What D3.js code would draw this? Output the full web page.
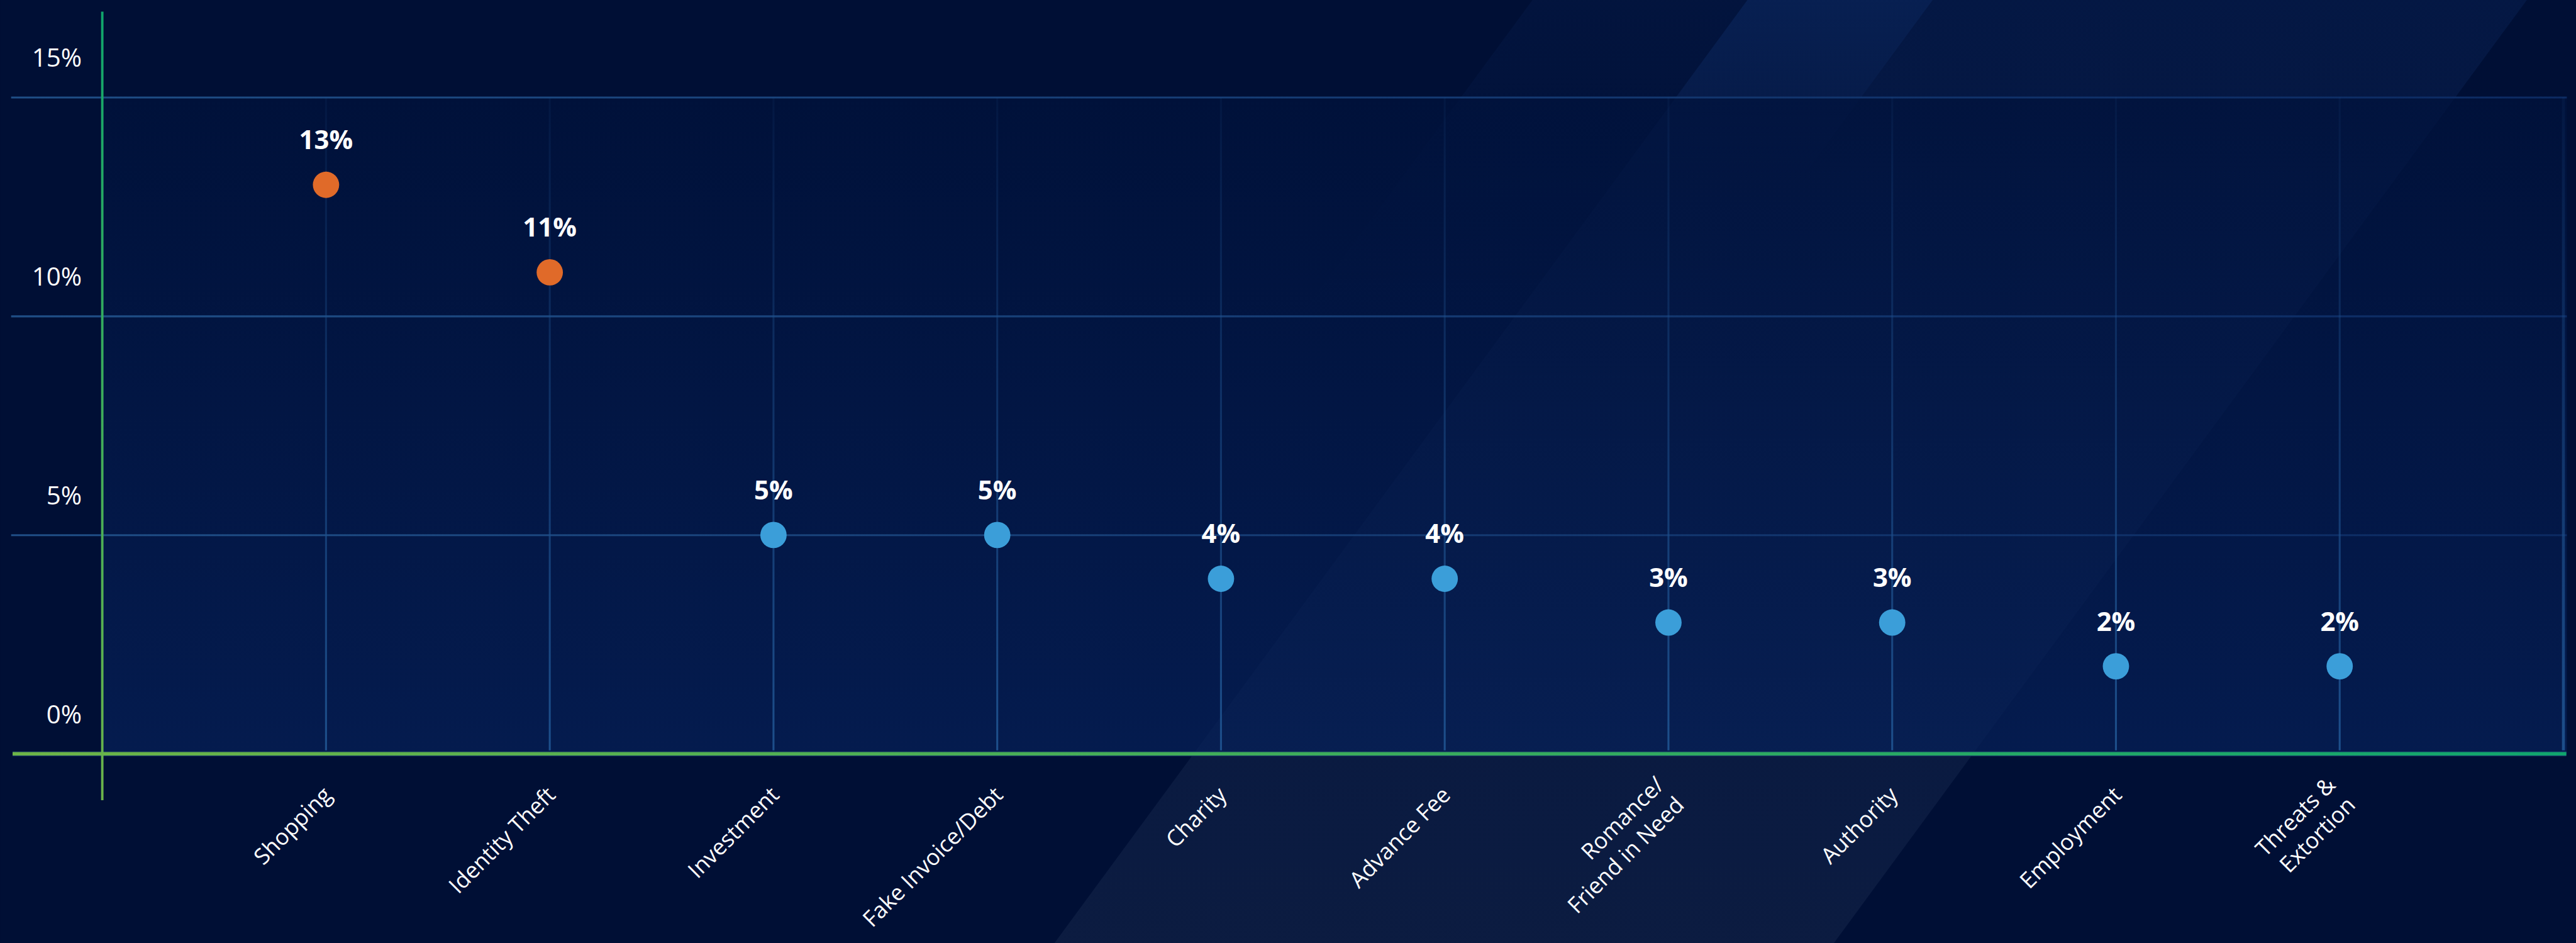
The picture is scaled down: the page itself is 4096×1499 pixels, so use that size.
<!DOCTYPE html>
<html>
<head>
<meta charset="utf-8">
<script src="https://cdn.jsdelivr.net/npm/d3@7"></script>
<style>
  html, body { margin: 0; padding: 0; background: #000f35; overflow: hidden; }
  svg { display: block; }
  text { font-family: "Open Sans", "Noto Sans", sans-serif; fill: #ffffff; }
</style>
</head>
<body>
<svg id="chart"></svg>
<script>
// ---- data -------------------------------------------------------------
const categories = [
  "Shopping", "Identity Theft", "Investment", "Fake Invoice/Debt", "Charity",
  "Advance Fee", "Romance/\nFriend in Need", "Authority", "Employment", "Threats &\nExtortion"
];
const shares = [13, 11, 5, 5, 4, 4, 3, 3, 2, 2];          // percent of reports
const highlighted = ["Shopping", "Identity Theft"];        // leading scam types
const yTickValues = [0, 5, 10, 15];
const gridValues = [5, 10, 15];

// ---- canvas -----------------------------------------------------------
const W = 5283, H = 1934;
const svg = d3.select("#chart")
  .attr("width", 4096).attr("height", 1499)
  .attr("viewBox", `0 0 ${W} ${H}`);

const plot = { left: 209, right: 5258, top: 199.5, bottom: 1546 };

const x = d3.scalePoint().domain(categories).range([plot.left, plot.right]).padding(1);
const y = d3.scaleLinear().domain([0, 15]).range([plot.bottom, plot.top]);

const defs = svg.append("defs");
function linGrad(id, x1, y1, x2, y2, stops) {
  const g = defs.append("linearGradient").attr("id", id)
    .attr("gradientUnits", "userSpaceOnUse")
    .attr("x1", x1).attr("y1", y1).attr("x2", x2).attr("y2", y2);
  stops.forEach(s => g.append("stop").attr("offset", s[0])
    .attr("stop-color", s[1]).attr("stop-opacity", s[2] === undefined ? 1 : s[2]));
  return `url(#${id})`;
}

const plotFill   = linGrad("plotFill", 0, plot.top, 0, plot.bottom, [[0, "#00123c"], [1, "#062058"]]);
const bandMain   = linGrad("bandMain", 0, 0, 0, H, [[0, "#2864c8", 0.1], [0.6, "#5a80b8", 0.09], [1, "#8aa4c0", 0.085]]);
const bandFaint  = linGrad("bandFaint", 0, 0, 0, 700, [[0, "#2864c8", 0.06], [1, "#2864c8", 0]]);
const bandBright = linGrad("bandBright", 0, 0, 0, 350, [[0, "#2a70dc", 0.09], [1, "#2a70dc", 0.01]]);
const gridStroke = linGrad("gridStroke", 22, 0, 5265, 0, [[0, "#1f4e86"], [1, "#0c2a62"]]);
const stemStroke = linGrad("stemStroke", 0, plot.top, 0, plot.bottom, [[0, "#1d4f8b", 0.1], [0.5, "#1d4f8b", 0.5], [1, "#1d4f8b", 1]]);
const yAxisStroke = linGrad("yAxisStroke", 0, 24, 0, 1641, [[0, "#10a66c"], [1, "#6cb44a"]]);
const xAxisStroke = linGrad("xAxisStroke", 25, 0, 5264, 0, [[0, "#6db447"], [1, "#10a56e"]]);

// ---- background -------------------------------------------------------
svg.append("rect").attr("width", W).attr("height", H).attr("fill", "#000f35");

// slanted light bands
const k = 0.735;
function band(x0, x1, h, fill) {
  svg.append("path")
    .attr("d", `M${x0},0 L${x1},0 L${x1 - k * h},${h} L${x0 - k * h},${h} Z`)
    .attr("fill", fill);
}
band(3584, 5183, H, bandMain);
band(3143, 3584, 700, bandFaint);
band(3584, 3964, 350, bandBright);

// plotting area
svg.append("rect")
  .attr("x", plot.left).attr("y", plot.top)
  .attr("width", 5265 - plot.left).attr("height", plot.bottom - plot.top)
  .attr("fill", plotFill).attr("opacity", 0.72);

// ---- grid -------------------------------------------------------------
const grid = svg.append("g").attr("transform", "translate(22,0)")
  .call(d3.axisRight(y).tickValues(gridValues).tickSize(5265 - 22).tickFormat(""));
grid.select(".domain").remove();
grid.selectAll("line").attr("stroke", gridStroke).attr("stroke-width", 4);

// vertical stems at each category and the right border
svg.append("g").selectAll("line")
  .data(categories)
  .join("line")
  .attr("x1", d => x(d)).attr("x2", d => x(d))
  .attr("y1", plot.top).attr("y2", plot.bottom - 7)
  .attr("stroke", stemStroke).attr("stroke-width", 4);
svg.append("line")
  .attr("x1", plot.right).attr("x2", plot.right)
  .attr("y1", plot.top).attr("y2", plot.bottom - 7)
  .attr("stroke", stemStroke).attr("stroke-width", 6);

// ---- axes -------------------------------------------------------------
svg.append("line")
  .attr("x1", 25).attr("x2", 5264).attr("y1", y(0)).attr("y2", y(0))
  .attr("stroke", "#143564").attr("stroke-width", 10);
svg.append("line")
  .attr("x1", 25).attr("x2", 5264).attr("y1", y(0)).attr("y2", y(0))
  .attr("stroke", xAxisStroke).attr("stroke-width", 7);
svg.append("line")
  .attr("x1", plot.left).attr("x2", plot.left).attr("y1", 24).attr("y2", 1641)
  .attr("stroke", yAxisStroke).attr("stroke-width", 5);

// y tick labels sit above their gridlines
const yLabels = svg.append("g").attr("transform", "translate(167,0)")
  .call(d3.axisLeft(y).tickValues(yTickValues).tickSize(0).tickPadding(0).tickFormat(d => d + "%"));
yLabels.select(".domain").remove();
yLabels.selectAll("text")
  .attr("dy", null).attr("y", -63)
  .attr("fill", "#ffffff")
  .style("font-family", "'Open Sans', sans-serif")
  .style("font-size", "52px").style("font-weight", 400);

// category labels, rotated
const catLabels = svg.append("g").selectAll("text")
  .data(categories)
  .join("text")
  .attr("transform", d => `translate(${x(d) + 3},1622) rotate(-45)`)
  .attr("text-anchor", "end")
  .style("font-size", "46px").style("font-weight", 400);
catLabels.each(function (d) {
  const lines = d.split("\n");
  const lh = 58;
  d3.select(this).selectAll("tspan").data(lines).join("tspan")
    .attr("x", 0)
    .attr("y", (l, i) => (i - (lines.length - 1) / 2) * lh)
    .attr("dy", "0.35em")
    .text(l => l);
});

// ---- lollipop heads and values ---------------------------------------
const rows = categories.map((c, i) => ({ cat: c, v: shares[i] }));

svg.append("g").selectAll("circle")
  .data(rows)
  .join("circle")
  .attr("cx", d => x(d.cat)).attr("cy", d => y(d.v)).attr("r", 27)
  .attr("fill", d => highlighted.includes(d.cat) ? "#e06a29" : "#3b9ed9");

svg.append("g").selectAll("text")
  .data(rows)
  .join("text")
  .attr("x", d => x(d.cat)).attr("y", d => y(d.v) - 73)
  .attr("text-anchor", "middle")
  .style("font-size", "54px").style("font-weight", 700)
  .text(d => d.v + "%");
</script>
</body>
</html>
